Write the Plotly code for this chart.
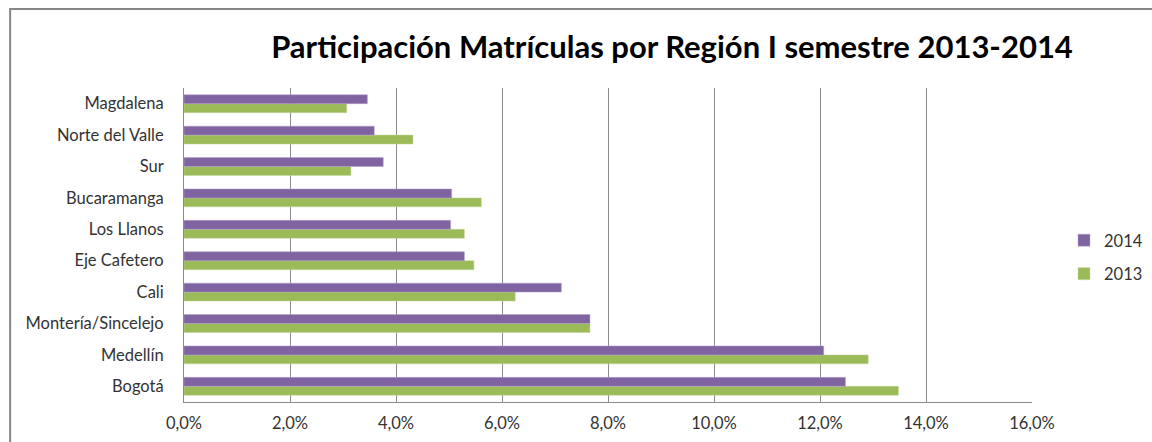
import plotly.graph_objects as go

regions = ["Bogotá", "Medellín", "Montería/Sincelejo", "Cali", "Eje Cafetero",
           "Los Llanos", "Bucaramanga", "Sur", "Norte del Valle", "Magdalena"]
share_2014 = [12.48, 12.07, 7.66, 7.12, 5.29, 5.03, 5.05, 3.76, 3.59, 3.46]
share_2013 = [13.48, 12.91, 7.66, 6.25, 5.47, 5.29, 5.61, 3.15, 4.32, 3.07]
x_ticks = [0, 2, 4, 6, 8, 10, 12, 14, 16]
x_tick_labels = ["0,0%", "2,0%", "4,0%", "6,0%", "8,0%", "10,0%", "12,0%", "14,0%", "16,0%"]

fig = go.Figure()
fig.add_trace(go.Bar(y=regions, x=share_2013, orientation="h", name="2013",
                     legendgroup="g2013", legendrank=2,
                     marker=dict(color="#9BBB59", line=dict(color="#C3D69B", width=0.5))))
fig.add_trace(go.Bar(y=regions, x=share_2014, orientation="h", name="2014",
                     legendgroup="g2014", legendrank=1,
                     marker=dict(color="#8064A2", line=dict(color="#B3A2C7", width=0.5))))

fig.update_layout(
    width=1152, height=442,
    margin=dict(l=184, r=120, t=88, b=40),
    paper_bgcolor="white", plot_bgcolor="white",
    font=dict(family="Lato", size=16.5, color="#333333"),
    barmode="group", bargap=0.43, bargroupgap=0,
    title=dict(text="<b>Participación Matrículas por Región I semestre 2013-2014</b>",
               x=672 / 1152, xanchor="center", y=1 - 47 / 442, yanchor="middle",
               font=dict(family="Lato", size=31, color="black")),
    legend=dict(xref="container", yref="container", x=1064 / 1152, y=1 - 257 / 442,
                xanchor="left", yanchor="middle",
                traceorder="grouped", font=dict(size=16.5, color="#333333"),
                itemwidth=30, tracegroupgap=9),
    showlegend=True,
)
fig.update_xaxes(range=[0, 16], tickvals=x_ticks, ticktext=x_tick_labels,
                 showgrid=True, gridcolor="#8C8C8C", gridwidth=1,
                 showline=True, linecolor="#8C8C8C", linewidth=1,
                 zeroline=False, ticklabelstandoff=6, automargin=False)
fig.update_yaxes(showgrid=False, showline=True, linecolor="#8C8C8C", linewidth=1,
                 ticklabelstandoff=16, automargin=False)

# outer chart frame
fig.add_shape(type="rect", xref="paper", yref="paper",
              x0=-0.205, x1=1.3, y0=-0.3, y1=1.2516,
              line=dict(color="#868686", width=2), layer="below")

# page body has a default 8px margin; drop it so the figure fills the window
fig.write_html("out.html", config={"displayModeBar": False},
               post_script="document.body.style.margin='0';")
